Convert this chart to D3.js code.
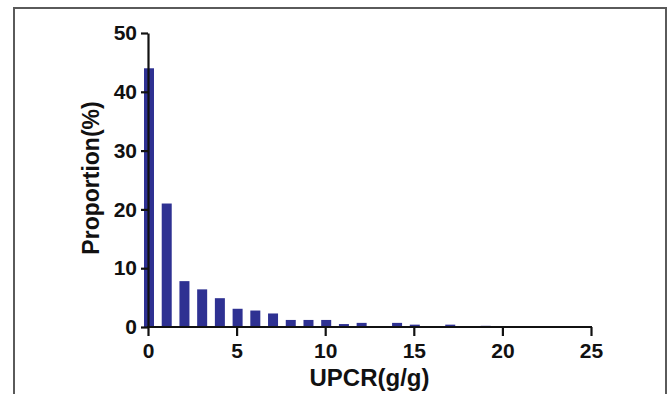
<!DOCTYPE html>
<html>
<head>
<meta charset="utf-8">
<script src="https://cdn.jsdelivr.net/npm/d3@7"></script>
<style>
  body { margin: 0; background: #fff; }
  text { font-family: "Liberation Sans", Arial, sans-serif; font-weight: bold; fill: #111; }
</style>
</head>
<body>
<div id="chart"></div>
<script>
// UPCR bins (g/g) and proportion of patients (%)
const bins = d3.range(0, 21);
const proportion = [44, 21, 7.8, 6.4, 4.9, 3.1, 2.8, 2.3, 1.2, 1.2, 1.2, 0.5, 0.7, 0, 0.7, 0.4, 0, 0.4, 0.15, 0.2, 0.1];
const xTicks = [0, 5, 10, 15, 20, 25];
const yTicks = [0, 10, 20, 30, 40, 50];

const width = 669, height = 394;
const padding = {left: 148, right: 78, top: 33, bottom: 67};

const svg = d3.select('#chart').append('svg')
    .attr('width', width)
    .attr('height', height);

// outer frame
svg.append('rect')
    .attr('x', 14).attr('y', 8)
    .attr('width', 652).attr('height', 400)
    .attr('fill', 'none')
    .attr('stroke', '#5a5a5a')
    .attr('stroke-width', 2);

const x = d3.scaleLinear().domain([0, 25]).range([padding.left, width - padding.right]);
const y = d3.scaleLinear().domain([0, 50]).range([height - padding.bottom, padding.top]);

const barW = 10;
svg.selectAll('rect.bar')
    .data(proportion)
    .enter()
    .append('rect')
    .attr('class', 'bar')
    .attr('x', (d, i) => x(bins[i]) - barW / 2 + 1)
    .attr('y', d => y(d))
    .attr('width', barW)
    .attr('height', d => y(0) - y(d))
    .attr('fill', '#2e3192');

const xAxis = svg.append('g')
    .attr('transform', 'translate(0,' + y(0) + ')')
    .call(d3.axisBottom(x).tickValues(xTicks).tickSize(9).tickSizeOuter(0).tickPadding(7));
const yAxis = svg.append('g')
    .attr('transform', 'translate(' + x(0) + ',0)')
    .call(d3.axisLeft(y).tickValues(yTicks).tickSize(7).tickSizeOuter(0).tickPadding(4));

[xAxis, yAxis].forEach(g => {
    g.select('.domain').attr('stroke', '#111').attr('stroke-width', 2.2);
    g.selectAll('.tick line').attr('stroke', '#111').attr('stroke-width', 2.2);
    g.selectAll('.tick text').style('font-size', '21px').attr('fill', '#111');
});
xAxis.select('.domain').attr('d', 'M' + (x(0) - 1) + ',0H' + (x(25) + 1));

svg.append('text')
    .attr('x', (x(0) + x(25)) / 2)
    .attr('y', 386)
    .attr('text-anchor', 'middle')
    .style('font-size', '24px')
    .text('UPCR(g/g)');

svg.append('text')
    .attr('transform', 'translate(99,178) rotate(-90)')
    .attr('text-anchor', 'middle')
    .style('font-size', '23px')
    .text('Proportion(%)');
</script>
</body>
</html>
